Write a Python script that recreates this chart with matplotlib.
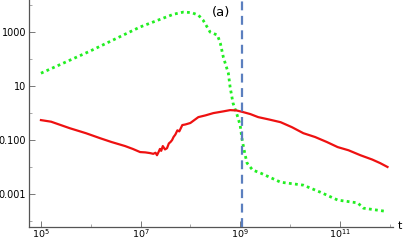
import matplotlib
matplotlib.use("Agg")
import matplotlib.pyplot as plt
from matplotlib.ticker import FixedLocator, NullFormatter

# Red solid curve
t_red = [1.0e5, 1.6e5, 3.8e5, 8.0e5, 1.55e6, 2.6e6, 4.9e6, 7.0e6, 9.8e6, 1.25e7,
         1.55e7, 1.8e7, 2.0e7, 2.14e7, 2.3e7, 2.45e7, 2.6e7, 2.8e7, 3.1e7, 3.4e7,
         3.7e7, 4.0e7, 4.3e7, 4.6e7, 5.0e7, 5.5e7, 6.0e7, 6.9e7, 8.0e7, 1.0e8,
         1.2e8, 1.45e8, 2.0e8, 2.9e8, 4.5e8, 6.3e8, 8.5e8, 1.15e9, 1.6e9, 2.3e9,
         3.8e9, 6.5e9, 1.1e10, 1.86e10, 3.2e10, 5.5e10, 9.1e10, 1.5e11, 2.6e11, 4.5e11,
         6.5e11, 9.1e11]
y_red = [0.55, 0.48, 0.275, 0.18, 0.117, 0.085, 0.060, 0.047, 0.036, 0.035,
         0.033, 0.031, 0.034, 0.0275, 0.036, 0.047, 0.040, 0.060, 0.045, 0.050,
         0.075, 0.085, 0.10, 0.13, 0.16, 0.23, 0.21, 0.36, 0.38, 0.43,
         0.55, 0.71, 0.82, 1.00, 1.15, 1.29, 1.25, 1.09, 0.92, 0.71,
         0.58, 0.46, 0.30, 0.18, 0.13, 0.085, 0.055, 0.042, 0.0275, 0.019,
         0.014, 0.0101]

# Green dotted curve
t_green = [1.0e5, 9.8e5, 9.8e6, 4.6e7, 7.2e7, 1.05e8, 1.45e8, 1.8e8, 2.5e8, 3.5e8,
           4.0e8, 4.6e8, 5.8e8, 6.3e8, 7.2e8, 8.7e8, 1.0e9, 1.1e9, 1.26e9, 1.38e9,
           1.78e9, 2.57e9, 6.5e9, 1.86e10, 4.1e10, 9.1e10, 2.3e11, 3.0e11, 8.3e11]
y_green = [30, 200, 1550, 4600, 5500, 5300, 4270, 2780, 1000, 775,
           390, 118, 30, 9.1, 2.35, 0.85, 0.36, 0.10, 0.028, 0.014,
           0.0078, 0.006, 0.00275, 0.00214, 0.00117, 0.0006, 0.00047, 0.0003, 0.00023]

x_major = [1e5, 1e7, 1e9, 1e11]
x_major_labels = ["$10^5$", "$10^7$", "$10^9$", "$10^{11}$"]
x_minor = [1e6, 1e8, 1e10, 1e12]
y_major = [1e3, 1e1, 1e-1, 1e-3]
y_major_labels = ["1000", "10", "0.100", "0.001"]
y_minor = [1e4, 1e2, 1e0, 1e-2, 1e-4]

t_mark = 1.1e9

fig = plt.figure(figsize=(4.07, 2.40), dpi=100)
ax = fig.add_axes([29/407, 13/240, (393-29)/407, 227/240])

ax.plot(t_green, y_green, color="#22ee22", lw=2.0, linestyle=(0, (1, 1.2)), zorder=3)
ax.plot(t_red, y_red, color="#ee1111", lw=1.6, zorder=4)
ax.axvline(t_mark, color="#5b7fbf", lw=1.6, linestyle=(0, (4, 2.5)), zorder=5)

ax.set_xscale("log")
ax.set_yscale("log")
ax.set_xlim(10**4.76, 10**12.07)
ax.set_ylim(10**-4.22, 10**4.19)

ax.xaxis.set_major_locator(FixedLocator(x_major))
ax.set_xticklabels(x_major_labels)
ax.xaxis.set_minor_locator(FixedLocator(x_minor))
ax.xaxis.set_minor_formatter(NullFormatter())
ax.yaxis.set_major_locator(FixedLocator(y_major))
ax.set_yticklabels(y_major_labels)
ax.yaxis.set_minor_locator(FixedLocator(y_minor))
ax.yaxis.set_minor_formatter(NullFormatter())

for s in ["top", "right"]:
    ax.spines[s].set_visible(False)
for s in ["left", "bottom"]:
    ax.spines[s].set_color("#555555")
    ax.spines[s].set_linewidth(0.9)
ax.tick_params(which="major", direction="in", length=4, width=0.7, color="#777777",
               labelsize=7, pad=2)
ax.tick_params(axis="x", which="major", pad=0.5, labelsize=6.8)
ax.tick_params(which="minor", direction="in", length=2.5, width=0.6, color="#999999")

ax.text(10**8.62, 10**3.72, "(a)", fontsize=9.5, ha="center", va="center")
fig.text(400/407, 1 - 226/240, "t", fontsize=8, ha="center", va="center")

fig.savefig("out.png", dpi=100)
